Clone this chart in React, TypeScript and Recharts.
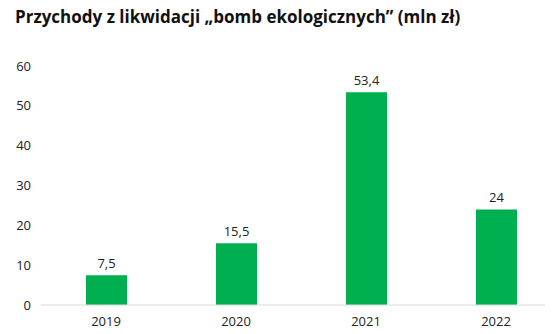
import React from 'react';
import { BarChart, Bar, XAxis, YAxis, LabelList } from 'recharts';

const years = ['2019', '2020', '2021', '2022'];
const revenue = [7.5, 15.5, 53.4, 24];
const yTicks = [0, 10, 20, 30, 40, 50, 60];

const data = years.map((year, i) => ({ year, value: revenue[i] }));

const fmt = (v: any) => String(v).replace('.', ',');

export default function App() {
  return (
    <div
      style={{
        position: 'relative',
        width: 553,
        height: 334,
        margin: -8,
        overflow: 'hidden',
        background: '#fff',
        fontFamily: '"Open Sans", sans-serif',
      }}
    >
      <div
        style={{
          position: 'absolute',
          left: 15,
          top: 5,
          fontSize: 17,
          fontWeight: 700,
          color: '#111',
          whiteSpace: 'nowrap',
        }}
      >
        Przychody z likwidacji „bomb ekologicznych” (mln zł)
      </div>
      <BarChart
        width={561}
        height={334}
        data={data}
        margin={{ top: 66, right: 0, bottom: 0, left: 0 }}
      >
        <XAxis
          dataKey="year"
          axisLine={{ stroke: '#d9d9d9' }}
          tickLine={false}
          tickMargin={6}
          tick={{ fill: '#222', fontSize: 13 }}
          height={29}
        />
        <YAxis
          domain={[0, 60]}
          ticks={yTicks}
          axisLine={false}
          tickLine={false}
          tickMargin={4}
          width={41}
          tick={{ fill: '#222', fontSize: 13 }}
        />
        <Bar dataKey="value" fill="#00b050" barSize={41} isAnimationActive={false}>
          <LabelList
            dataKey="value"
            position="top"
            offset={7}
            formatter={fmt}
            style={{ fill: '#222', fontSize: 13 }}
          />
        </Bar>
      </BarChart>
    </div>
  );
}
